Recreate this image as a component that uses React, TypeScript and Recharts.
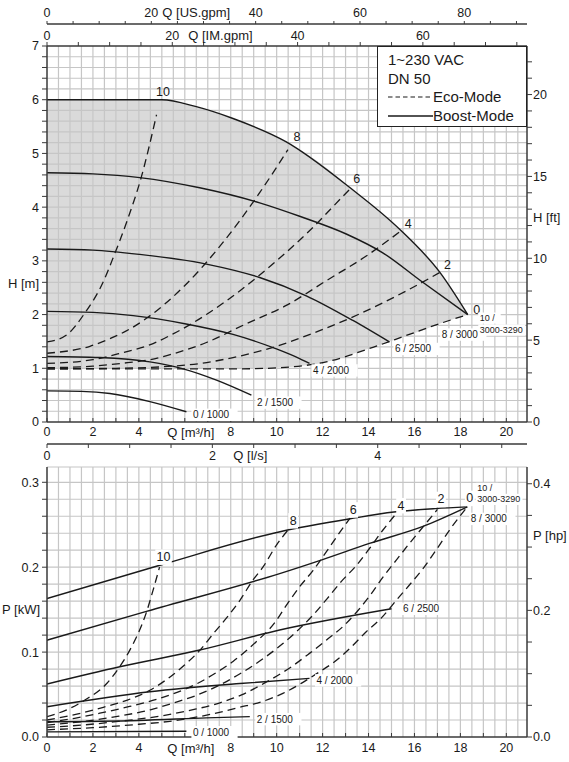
import React from 'react';
import { ComposedChart, Line, Area, XAxis, YAxis, CartesianGrid, LabelList } from 'recharts';

// ---------- axis ranges / unit conversions ----------
const Q_MAX = 20.9; // m³/h at the right frame
const H_MAX = 7; // m
const P_MAX = 0.318; // kW
const M3H_PER_USGPM = 0.227125;
const M3H_PER_IMGPM = 0.272765;
const M3H_PER_LS = 3.6;
const M_PER_FT = 0.3048;
const KW_PER_HP = 0.7457;

// ---------- head H [m] over Q [m³/h] ----------
// Boost-Mode (solid)
const boostH10 = [[0, 6.0], [2.5, 6.0], [5.0, 6.0], [6.5, 5.87], [8.1, 5.65], [10.4, 5.22], [13.2, 4.36], [15.4, 3.57], [17.1, 2.79], [18.32, 2.0]];
const boostH8 = [[0, 4.64], [2, 4.62], [4.04, 4.55], [6.65, 4.36], [9.26, 4.08], [11.0, 3.83], [13.03, 3.5], [14.62, 3.15], [16.3, 2.62], [18.32, 2.0]];
const boostH6 = [[0, 3.22], [2, 3.2], [4.04, 3.12], [6.94, 2.94], [9.26, 2.69], [11.29, 2.35], [13.32, 1.89], [14.91, 1.49]];
const boostH4 = [[0, 2.06], [2, 2.04], [3.75, 1.98], [6.0, 1.83], [8.1, 1.63], [9.99, 1.36], [11.0, 1.18], [11.43, 1.09]];
const boostH2 = [[0, 1.22], [2.3, 1.2], [4.48, 1.12], [5.93, 0.99], [7.38, 0.78], [8.9, 0.5]];
const boostH0 = [[0, 0.58], [1.5, 0.57], [2.74, 0.53], [4.48, 0.38], [6.07, 0.19]];
// Eco-Mode (dashed)
const ecoH10 = [[0, 1.49], [0.85, 1.62], [1.65, 2.03], [2.44, 2.6], [2.9, 3.08], [3.5, 3.76], [4.1, 4.55], [4.77, 5.72]];
const ecoH8 = [[0, 1.28], [1.87, 1.41], [2.74, 1.55], [3.6, 1.73], [4.33, 1.93], [5.93, 2.51], [7.6, 3.31], [9.26, 4.27], [10.49, 5.07]];
const ecoH6 = [[0, 1.09], [2, 1.16], [3.2, 1.28], [4.62, 1.46], [5.49, 1.64], [6.94, 2.0], [8.39, 2.44], [9.99, 3.0], [11.43, 3.56], [12.88, 4.2], [13.2, 4.34]];
const ecoH4 = [[0, 1.01], [2, 1.04], [3.2, 1.09], [4.48, 1.16], [5.49, 1.27], [6.94, 1.48], [8.68, 1.83], [10.42, 2.17], [12.16, 2.63], [13.9, 3.09], [15.42, 3.56]];
const ecoH2 = [[0, 0.99], [3, 1.0], [6.07, 1.06], [8.1, 1.2], [9.99, 1.41], [11.87, 1.7], [13.6, 2.01], [15.64, 2.44], [17.09, 2.78]];
const ecoH0 = [[0, 0.99], [6, 0.99], [8.4, 0.99], [10.13, 1.01], [12.16, 1.12], [14.19, 1.39], [15.64, 1.61], [17.09, 1.83], [18.32, 2.0]];
// grey operating field
const shadeQ = [0, 5.0, 6.5, 8.1, 10.4, 12.2, 13.2, 14.2, 15.4, 16.3, 17.1, 18.32];
const shadeLo = [0.99, 0.99, 0.99, 0.99, 1.02, 1.12, 1.25, 1.39, 1.57, 1.7, 1.83, 2.0];
const shadeHi = [6.0, 6.0, 5.87, 5.65, 5.22, 4.72, 4.36, 4.0, 3.57, 3.18, 2.79, 2.0];

// ---------- power P [kW] over Q [m³/h] ----------
const boostP10 = [[0, 0.163], [5.06, 0.2035], [10.1, 0.2415], [13.2, 0.257], [15.1, 0.265], [16.9, 0.269], [18.3, 0.271]];
const boostP8 = [[0, 0.114], [4.33, 0.148], [10.13, 0.1925], [12.0, 0.209], [14.04, 0.228], [16.37, 0.248], [18.3, 0.271]];
const boostP6 = [[0, 0.0624], [3.17, 0.0827], [6.65, 0.1024], [10.13, 0.126], [15.0, 0.151]];
const boostP4 = [[0, 0.0357], [4.48, 0.0533], [8.4, 0.063], [11.43, 0.069]];
const boostP2 = [[0, 0.018], [4.0, 0.0195], [6.94, 0.0225], [8.83, 0.024]];
const boostP0 = [[0, 0.006], [6.07, 0.0068]];
const ecoP10 = [[0, 0.024], [0.86, 0.032], [1.65, 0.0435], [2.6, 0.063], [3.17, 0.083], [3.6, 0.102], [4.33, 0.147], [4.62, 0.173], [4.9, 0.2]];
const ecoP8 = [[0, 0.02], [1.3, 0.027], [2.45, 0.035], [3.5, 0.0435], [4.48, 0.055], [5.27, 0.069], [6.0, 0.085], [6.65, 0.102], [7.25, 0.122], [7.81, 0.14], [8.4, 0.161], [8.97, 0.185], [9.4, 0.2], [9.99, 0.226], [10.5, 0.244]];
const ecoP6 = [[0, 0.017], [1.2, 0.022], [2.3, 0.028], [3.6, 0.036], [4.6, 0.043], [5.5, 0.051], [6.4, 0.061], [7.2, 0.073], [8.1, 0.089], [9.1, 0.112], [9.9, 0.134], [10.42, 0.155], [11.0, 0.177], [11.58, 0.196], [12.16, 0.218], [12.67, 0.238], [13.2, 0.258]];
const ecoP4 = [[0, 0.014], [1.5, 0.018], [3.0, 0.024], [4.5, 0.032], [5.5, 0.04], [6.5, 0.049], [7.5, 0.061], [8.5, 0.076], [9.5, 0.094], [10.27, 0.11], [10.86, 0.124], [11.58, 0.1435], [12.2, 0.163], [12.81, 0.183], [13.47, 0.202], [14.04, 0.222], [14.62, 0.2435], [15.2, 0.263]];
const ecoP2 = [[0, 0.0115], [1.5, 0.014], [3, 0.018], [5, 0.025], [6.5, 0.033], [7.5, 0.04], [8.5, 0.05], [9.5, 0.064], [10.64, 0.0827], [11.43, 0.0985], [12.16, 0.114], [12.96, 0.132], [13.54, 0.149], [14.1, 0.168], [14.62, 0.188], [15.2, 0.208], [15.78, 0.228], [16.36, 0.247], [17.0, 0.268]];
const ecoP0 = [[0, 0.0085], [2, 0.011], [4, 0.015], [5.5, 0.019], [7, 0.026], [8.4, 0.035], [9.4, 0.042], [10.27, 0.0514], [11.07, 0.0632], [11.87, 0.0768], [12.52, 0.0886], [13.25, 0.106], [13.9, 0.124], [14.55, 0.14], [15.27, 0.163], [15.78, 0.179], [16.36, 0.198], [16.94, 0.22], [17.52, 0.2435], [18.3, 0.271]];

// ---------- helpers ----------
const FONT = 'Arial, "Liberation Sans", Helvetica, sans-serif';
const INK = '#1a1a1a';
const AXIS = '#3a3a3a';
const GRID = '#c6c6c6';

const steps = (from: number, to: number, step: number) => {
  const out: number[] = [];
  for (let v = from; v <= to + 1e-9; v += step) out.push(Math.round(v * 1000) / 1000);
  return out;
};
const isMult = (v: number, m: number) => Math.abs(v / m - Math.round(v / m)) < 1e-6;
const pts = (arr: number[][]) => arr.map(([q, v]) => ({ q, v }));
const shadeData = shadeQ.map((q, i) => ({ q, r: [shadeLo[i], shadeHi[i]] }));

type Tag = { t: string; dx: number; dy: number; size: number; anchor?: 'start' | 'middle'; bg?: boolean };

// label drawn only at the last point of a curve
const endTag = (count: number, tags: Tag[]) => (p: any) => {
  if (p.index !== count - 1) return null;
  const bx = p.viewBox?.x ?? p.x;
  const by = p.viewBox?.y ?? p.y;
  return (
    <g>
      {tags.map((g, i) => {
        const anchor = g.anchor || 'start';
        const w = g.t.length * g.size * 0.54;
        const x = bx + g.dx;
        const y = by + g.dy;
        const left = anchor === 'middle' ? x - w / 2 : x;
        return (
          <g key={i}>
            {g.bg !== false && <rect x={left - 1.5} y={y - g.size * 0.62} width={w + 3} height={g.size * 1.24} fill="#fff" />}
            <text x={x} y={y} dominantBaseline="central" textAnchor={anchor} fontSize={g.size} fill={INK} fontFamily={FONT}>
              {g.t}
            </text>
          </g>
        );
      })}
    </g>
  );
};

const curve = (id: string, data: number[][], yId: string, dashed: boolean, tags: Tag[] = []) => (
  <Line
    key={id}
    xAxisId="aq"
    yAxisId={yId}
    data={pts(data)}
    dataKey="v"
    type="monotone"
    stroke={INK}
    strokeWidth={dashed ? 1.3 : 1.4}
    strokeDasharray={dashed ? '8 5' : undefined}
    dot={false}
    activeDot={false}
    isAnimationActive={false}
  >
    {tags.length > 0 && <LabelList dataKey="v" content={endTag(data.length, tags)} />}
  </Line>
);

// tick text for x axes: labels only every `every`, optional title after one label
const xTick = (side: 'top' | 'bottom', every: number, title?: { at: number; text: string; dx: number }, replace?: { at: number; text: string; dx: number }) => (p: any) => {
  const v = p.payload.value;
  if (!isMult(v, every)) return null;
  const dy = side === 'bottom' ? '0.71em' : 0;
  if (replace && Math.abs(v - replace.at) < 1e-6) {
    return (
      <text x={p.x + replace.dx} y={p.y} dy={dy} textAnchor="middle" fontSize={13} fill={INK} fontFamily={FONT}>
        {replace.text}
      </text>
    );
  }
  return (
    <g>
      <text x={p.x} y={p.y} dy={dy} textAnchor="middle" fontSize={12.5} fill={INK} fontFamily={FONT}>
        {Math.round(v * 100) / 100}
      </text>
      {title && Math.abs(v - title.at) < 1e-6 && (
        <text x={p.x + title.dx} y={p.y} dy={dy} textAnchor="start" fontSize={13} fill={INK} fontFamily={FONT}>
          {title.text}
        </text>
      )}
    </g>
  );
};

const yTitle = (text: string, dx: number, dy: number) => ({
  content: (p: any) => {
    const vb = p.viewBox;
    return (
      <text x={vb.x + dx} y={vb.y + vb.height / 2 + dy} dominantBaseline="central" fontSize={13} fill={INK} fontFamily={FONT}>
        {text}
      </text>
    );
  },
});

const tickStyle = { fontSize: 12.5, fill: INK, fontFamily: FONT };
const axisLine = { stroke: AXIS, strokeWidth: 1.5 };

export default function App() {
  return (
    <div style={{ position: 'absolute', left: 0, top: 0, width: 569, height: 762, background: '#fff', fontFamily: FONT }}>
      {/* head chart */}
      <ComposedChart width={569} height={466} data={shadeData} margin={{ top: 0, right: 0, bottom: 0, left: 0 }}>
        <XAxis xAxisId="bus" dataKey="q" orientation="top" type="number" domain={[0, Q_MAX / M3H_PER_USGPM]} allowDataOverflow ticks={steps(0, 90, 5)} interval={0} height={24} tickSize={3} tickMargin={4} axisLine={axisLine} tickLine={{ stroke: AXIS }} tick={xTick('top', 20, { at: 20, text: 'Q [US.gpm]', dx: 11 })} />
        <XAxis xAxisId="aim" dataKey="q" orientation="top" type="number" domain={[0, Q_MAX / M3H_PER_IMGPM]} allowDataOverflow ticks={steps(0, 75, 5)} interval={0} height={22} tickSize={4} tickMargin={2} axisLine={axisLine} tickLine={{ stroke: AXIS }} tick={xTick('top', 20, { at: 20, text: 'Q [IM.gpm]', dx: 16 })} />
        <XAxis xAxisId="bls" dataKey="q" type="number" domain={[0, Q_MAX / M3H_PER_LS]} allowDataOverflow ticks={steps(0, 5.5, 0.5)} interval={0} height={22} tickSize={4} tickMargin={3} axisLine={axisLine} tickLine={{ stroke: AXIS }} tick={xTick('bottom', 2, { at: 2, text: 'Q [l/s]', dx: 21 })} />
        <XAxis xAxisId="aq" dataKey="q" type="number" domain={[0, Q_MAX]} allowDataOverflow ticks={steps(0, 20, 1)} interval={0} height={22} tickSize={-4} tickMargin={9.5} axisLine={axisLine} tickLine={{ stroke: AXIS }} tick={xTick('bottom', 2, undefined, { at: 6, text: 'Q [m³/h]', dx: 6 })} />
        <YAxis yAxisId="h" type="number" domain={[0, H_MAX]} allowDataOverflow ticks={steps(0, 7, 0.2)} interval={0} width={47} tickSize={5} tickMargin={3} axisLine={axisLine} tickLine={{ stroke: AXIS }} tick={tickStyle} tickFormatter={(v: number) => (isMult(v, 1) ? String(Math.round(v)) : '')} label={yTitle('H [m]', 8, 49)} />
        <YAxis yAxisId="ft" orientation="right" type="number" domain={[0, H_MAX / M_PER_FT]} allowDataOverflow ticks={steps(0, 22, 1)} interval={0} width={42} tickSize={5} tickMargin={1} axisLine={axisLine} tickLine={{ stroke: AXIS }} tick={tickStyle} tickFormatter={(v: number) => (isMult(v, 5) ? String(Math.round(v)) : '')} label={yTitle('H [ft]', 6, -17)} />
        {/* grey field first, grid drawn over it */}
        <Area xAxisId="aq" yAxisId="h" data={shadeData} dataKey="r" type="monotone" stroke="none" fill="#dadada" fillOpacity={1} isAnimationActive={false} activeDot={false} />
        <CartesianGrid xAxisId="aq" yAxisId="h" zIndex={150} verticalValues={steps(0.5, 20.5, 0.5)} horizontalValues={steps(0.2, 6.8, 0.2)} stroke={GRID} strokeWidth={1.2} />
        {curve('eh10', ecoH10, 'h', true, [{ t: '10', dx: 6.5, dy: -23, size: 12.5, anchor: 'middle', bg: false }])}
        {curve('eh8', ecoH8, 'h', true, [{ t: '8', dx: 9, dy: -13, size: 12.5, anchor: 'middle', bg: false }])}
        {curve('eh6', ecoH6, 'h', true, [{ t: '6', dx: 6.5, dy: -9.5, size: 12.5, anchor: 'middle', bg: false }])}
        {curve('eh4', ecoH4, 'h', true, [{ t: '4', dx: 7, dy: -7, size: 12.5, anchor: 'middle', bg: false }])}
        {curve('eh2', ecoH2, 'h', true, [{ t: '2', dx: 8, dy: -8, size: 12.5, anchor: 'middle', bg: false }])}
        {curve('eh0', ecoH0, 'h', true, [{ t: '0', dx: 9, dy: -5, size: 12.5, anchor: 'middle', bg: false }])}
        {curve('bh0', boostH0, 'h', false, [{ t: '0 / 1000', dx: 6.5, dy: 3, size: 10 }])}
        {curve('bh2', boostH2, 'h', false, [{ t: '2 / 1500', dx: 5.5, dy: 7.5, size: 10 }])}
        {curve('bh4', boostH4, 'h', false, [{ t: '4 / 2000', dx: 3.5, dy: 7, size: 10 }])}
        {curve('bh6', boostH6, 'h', false, [{ t: '6 / 2500', dx: 5.5, dy: 7, size: 10 }])}
        {curve('bh8', boostH8, 'h', false, [{ t: '8 / 3000', dx: -26, dy: 20, size: 10 }])}
        {curve('bh10', boostH10, 'h', false, [
          { t: '10 /', dx: 12, dy: 3.5, size: 9 },
          { t: '3000-3290', dx: 12, dy: 15.5, size: 9 },
        ])}
      </ComposedChart>

      {/* power chart */}
      <ComposedChart width={569} height={296} margin={{ top: 1, right: 0, bottom: 0, left: 0 }}>
        <XAxis xAxisId="aq" dataKey="q" type="number" domain={[0, Q_MAX]} allowDataOverflow ticks={steps(0, 20, 1)} interval={0} height={25} tickSize={-4} tickMargin={10.5} axisLine={axisLine} tickLine={{ stroke: AXIS }} tick={xTick('bottom', 2, undefined, { at: 6, text: 'Q [m³/h]', dx: 6 })} />
        <YAxis yAxisId="p" type="number" domain={[0, P_MAX]} allowDataOverflow ticks={steps(0, 0.3, 0.02)} interval={0} width={47} tickSize={5} tickMargin={3} axisLine={axisLine} tickLine={{ stroke: AXIS }} tick={tickStyle} tickFormatter={(v: number) => (isMult(v, 0.1) ? v.toFixed(1) : '')} label={yTitle('P [kW]', 2, 7)} />
        <YAxis yAxisId="hp" orientation="right" type="number" domain={[0, P_MAX / KW_PER_HP]} allowDataOverflow ticks={steps(0, 0.4, 0.05)} interval={0} width={42} tickSize={5} tickMargin={1} axisLine={axisLine} tickLine={{ stroke: AXIS }} tick={tickStyle} tickFormatter={(v: number) => (isMult(v, 0.2) ? v.toFixed(1) : '')} label={yTitle('P [hp]', 6, -67)} />
        <CartesianGrid xAxisId="aq" yAxisId="p" verticalValues={steps(0.5, 20.5, 0.5)} horizontalValues={[...steps(0.02, 0.3, 0.02), P_MAX]} stroke={GRID} strokeWidth={1.2} />
        {curve('ep10', ecoP10, 'p', true, [{ t: '10', dx: 4, dy: -10, size: 12.5, anchor: 'middle' }])}
        {curve('ep8', ecoP8, 'p', true, [{ t: '8', dx: 5, dy: -9, size: 12.5, anchor: 'middle' }])}
        {curve('ep6', ecoP6, 'p', true, [{ t: '6', dx: 3, dy: -8, size: 12.5, anchor: 'middle' }])}
        {curve('ep4', ecoP4, 'p', true, [{ t: '4', dx: 5, dy: -8, size: 12.5, anchor: 'middle' }])}
        {curve('ep2', ecoP2, 'p', true, [{ t: '2', dx: 3.5, dy: -10, size: 12.5, anchor: 'middle' }])}
        {curve('ep0', ecoP0, 'p', true, [{ t: '0', dx: 2.5, dy: -8.5, size: 12.5, anchor: 'middle' }])}
        {curve('bp0', boostP0, 'p', false, [{ t: '0 / 1000', dx: 6.5, dy: 1, size: 10 }])}
        {curve('bp2', boostP2, 'p', false, [{ t: '2 / 1500', dx: 7, dy: 2.5, size: 10 }])}
        {curve('bp4', boostP4, 'p', false, [{ t: '4 / 2000', dx: 7, dy: 2, size: 10 }])}
        {curve('bp6', boostP6, 'p', false, [{ t: '6 / 2500', dx: 11.5, dy: 0, size: 10 }])}
        {curve('bp8', boostP8, 'p', false, [{ t: '8 / 3000', dx: 3.5, dy: 12, size: 10 }])}
        {curve('bp10', boostP10, 'p', false, [
          { t: '10 /', dx: 10, dy: -18.5, size: 9 },
          { t: '3000-3290', dx: 10, dy: -7.5, size: 9 },
        ])}
      </ComposedChart>

      {/* legend box */}
      <div
        style={{
          position: 'absolute',
          left: 377,
          top: 46,
          width: 150,
          height: 81,
          boxSizing: 'border-box',
          border: '1.5px solid #222',
          background: '#fff',
          color: INK,
          fontSize: 15,
          lineHeight: '18.5px',
          padding: '4px 0 0 10px',
        }}
      >
        <div>1~230 VAC</div>
        <div>DN 50</div>
        <div style={{ display: 'flex', alignItems: 'center' }}>
          <svg width={45} height={10}>
            <line x1={0} y1={5} x2={45} y2={5} stroke={INK} strokeWidth={1.2} strokeDasharray="4.5 3" />
          </svg>
          <span>Eco-Mode</span>
        </div>
        <div style={{ display: 'flex', alignItems: 'center' }}>
          <svg width={45} height={10}>
            <line x1={0} y1={5} x2={45} y2={5} stroke={INK} strokeWidth={1.4} />
          </svg>
          <span>Boost-Mode</span>
        </div>
      </div>
    </div>
  );
}
